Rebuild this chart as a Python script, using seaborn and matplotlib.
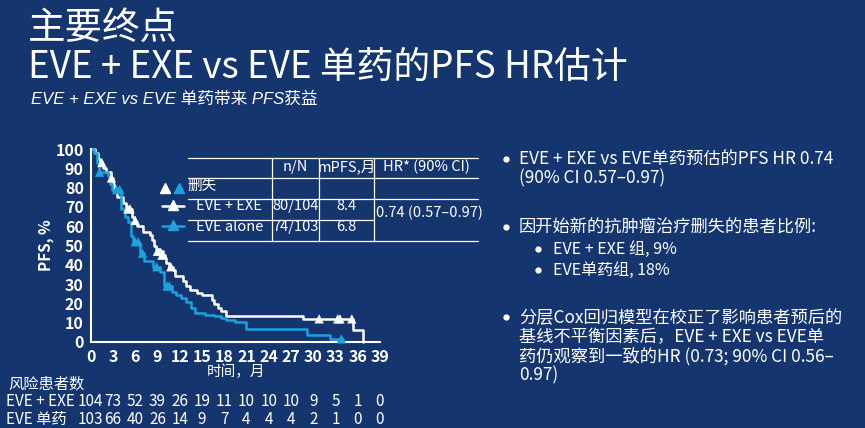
import numpy as np
import pandas as pd
import seaborn as sns
import matplotlib.pyplot as plt
import matplotlib.transforms as mtransforms

# KM 曲线 (月, PFS %)
combo_t = [0, 0.6, 1.0, 1.3, 1.6, 2.0, 2.7, 3.0, 3.2, 3.6, 4.3, 4.8, 5.6, 5.9, 6.2, 7.0, 8.0, 8.2, 8.5,
           8.8, 9.3, 9.8, 10.0, 10.2, 10.6, 11.1, 11.4, 12.5, 12.9, 13.4, 14.3, 15.0, 16.3, 16.6, 17.1,
           17.6, 18.2, 28.6, 35.4, 36.7]
combo_s = [100, 98, 95, 92, 90, 88, 85, 82, 78, 75, 72, 69, 65, 62, 60, 57, 55.5, 53, 50,
           48, 47, 45, 43.5, 41, 39, 37.5, 34, 31.5, 29, 27, 25.5, 24.5, 22, 19.5, 17.5,
           16, 13.5, 12, 6, 0]
mono_t = [0, 0.4, 0.8, 1.1, 2.3, 2.6, 2.9, 4.1, 4.6, 5.0, 5.4, 5.7, 6.7, 7.2, 8.4, 9.3, 9.9, 10.9,
          11.5, 12.2, 12.8, 13.5, 14.1, 15.4, 16.6, 17.6, 18.3, 19.5, 21.0, 29.2, 32.3, 34.0]
mono_s = [100, 98, 93, 88, 86, 82, 79, 69, 65, 62, 55, 51.5, 46, 42, 39, 36.5, 29, 26,
          24.5, 23, 20.5, 17.5, 15, 14, 13.3, 12.4, 11.6, 10.2, 6.5, 3.8, 1.6, 1.6]

# 删失
combo_cens_t = [1.5, 2.8, 5.0, 5.3, 6.0, 9.0, 9.6, 10.8, 30.8, 33.3, 33.6, 35.2]
combo_cens_s = [93, 85, 69, 69, 63, 47, 45, 39, 12, 12, 12, 12]
mono_cens_t = [1.2, 3.5, 3.9, 6.0, 6.4, 7.0, 8.9, 10.3, 10.6, 33.8]
mono_cens_s = [88, 79, 79, 52, 52, 46, 39, 29, 29, 1.6]

arms = ["EVE + EXE", "EVE alone"]
months = list(range(0, 40, 3))
risk_combo = [104, 73, 52, 39, 26, 19, 11, 10, 10, 10, 9, 5, 1, 0]
risk_mono = [103, 66, 40, 26, 14, 9, 7, 4, 4, 4, 2, 1, 0, 0]

BG = "#15356e"
WHITE = "#ffffff"
CYAN = "#1ea2df"

sns.set_style("white")
plt.rcParams["font.family"] = ["Noto Sans CJK SC", "DejaVu Sans"]

curves = pd.concat([
    pd.DataFrame({"t": combo_t, "s": combo_s, "arm": arms[0]}),
    pd.DataFrame({"t": mono_t, "s": mono_s, "arm": arms[1]}),
])
cens = pd.concat([
    pd.DataFrame({"t": combo_cens_t, "s": combo_cens_s, "arm": arms[0]}),
    pd.DataFrame({"t": mono_cens_t, "s": mono_cens_s, "arm": arms[1]}),
])
pal = {arms[0]: WHITE, arms[1]: CYAN}

fig = plt.figure(figsize=(8.65, 4.28), dpi=100, facecolor=BG)

ax = fig.add_axes([90.7 / 865, 1 - 342 / 428, 289.3 / 865, 193 / 428])
ax.set_facecolor(BG)
ax.set_zorder(1)

# 页面层 (像素坐标), 放在图的上面
page = fig.add_axes([0, 0, 1, 1])
page.set_xlim(0, 865)
page.set_ylim(428, 0)
page.axis("off")
page.set_zorder(5)

sns.lineplot(data=curves, x="t", y="s", hue="arm", palette=pal, drawstyle="steps-post",
             linewidth=1.8, estimator=None, sort=False, legend=False, ax=ax, clip_on=False)
sns.scatterplot(data=cens, x="t", y="s", hue="arm", palette=pal, marker="^", s=45,
                edgecolor="none", legend=False, ax=ax, clip_on=False, zorder=5)

ax.set_xlim(0, 39)
ax.set_ylim(0, 100)
ax.set_xticks(months)
ax.set_yticks(range(0, 101, 10))
for sp in ["top", "right"]:
    ax.spines[sp].set_visible(False)
for sp in ["left", "bottom"]:
    ax.spines[sp].set_color(WHITE)
    ax.spines[sp].set_linewidth(1.5)
ax.tick_params(colors=WHITE, labelsize=11.5, length=4, width=1.5, direction="out", pad=1)
for lab in ax.get_xticklabels() + ax.get_yticklabels():
    lab.set_fontweight("bold")
ax.set_xlabel("")
ax.set_ylabel("PFS, %", color=WHITE, fontsize=11, fontweight="bold", labelpad=1)
page.text(236, 372, "时间，月", color=WHITE, fontsize=10.5, ha="center", va="center")

# 表格 + 图例
fs_t = 10.5
tl, tr = 188, 478
c1, c2, c3 = 272, 319, 374
for y in [158, 178, 199, 241]:
    page.plot([tl, tr], [y, y], color=WHITE, lw=0.9)
page.plot([tl, c3], [220, 220], color=WHITE, lw=0.9)
for x in [c1, c2, c3]:
    page.plot([x, x], [158, 241], color=WHITE, lw=0.9)
page.text((c1 + c2) / 2, 167, "n/N", color=WHITE, fontsize=fs_t, ha="center", va="center")
page.text((c2 + c3) / 2, 167, "mPFS,月", color=WHITE, fontsize=fs_t, ha="center", va="center")
page.text((c3 + tr) / 2, 167, "HR* (90% CI)", color=WHITE, fontsize=fs_t, ha="center", va="center")
page.plot([165], [188], marker="^", color=WHITE, ms=6.5, ls="none")
page.plot([179], [188], marker="^", color=CYAN, ms=6.5, ls="none")
page.text(187, 186, "删失", color=WHITE, fontsize=fs_t, ha="left", va="center")
page.plot([162, 184], [206, 206], color=WHITE, lw=1.8)
page.plot([162, 184], [226, 226], color=CYAN, lw=1.8)
page.plot([173], [205], marker="^", color=WHITE, ms=6.5, ls="none")
page.plot([173], [225], marker="^", color=CYAN, ms=6.5, ls="none")
page.text(196, 206, "EVE + EXE", color=WHITE, fontsize=fs_t, ha="left", va="center")
page.text(196, 227, "EVE alone", color=WHITE, fontsize=fs_t, ha="left", va="center")
page.text((c1 + c2) / 2, 206, "80/104", color=WHITE, fontsize=fs_t, ha="center", va="center")
page.text((c1 + c2) / 2, 227, "74/103", color=WHITE, fontsize=fs_t, ha="center", va="center")
page.text((c2 + c3) / 2, 206, "8.4", color=WHITE, fontsize=fs_t, ha="center", va="center")
page.text((c2 + c3) / 2, 227, "6.8", color=WHITE, fontsize=fs_t, ha="center", va="center")
page.text(c3 + 2, 213, "0.74 (0.57–0.97)", color=WHITE, fontsize=fs_t, ha="left", va="center")

# 风险表
fs_r = 11
page.text(8, 384, "风险患者数", color=WHITE, fontsize=fs_r, ha="left", va="center")
page.text(6, 402, "EVE + EXE", color=WHITE, fontsize=fs_r, ha="left", va="center")
page.text(6, 419, "EVE 单药", color=WHITE, fontsize=fs_r, ha="left", va="center")
tr_risk = mtransforms.blended_transform_factory(ax.transData, page.transData)
for m, a, b in zip(months, risk_combo, risk_mono):
    page.text(m, 402, str(a), color=WHITE, fontsize=fs_r, ha="center", va="center", transform=tr_risk)
    page.text(m, 419, str(b), color=WHITE, fontsize=fs_r, ha="center", va="center", transform=tr_risk)

# 标题
page.text(28, 28, "主要终点", color=WHITE, fontsize=27, ha="left", va="center")
page.text(28, 67, "EVE + EXE vs EVE 单药的PFS HR估计", color=WHITE, fontsize=26.5, ha="left", va="center")
page.text(31, 99, "EVE + EXE vs EVE 单药带来 PFS获益", color=WHITE, fontsize=12, style="italic",
          family=["Liberation Sans", "Noto Sans CJK SC"], ha="left", va="center")

# 右侧要点 (每段一个多行文本)
fs_b = 12.4
bullets = [
    (506, 519, 151, "EVE + EXE vs EVE单药预估的PFS HR 0.74\n(90% CI 0.57–0.97)", fs_b),
    (506, 519, 219, "因开始新的抗肿瘤治疗删失的患者比例:", fs_b),
    (538, 553, 241, "EVE + EXE 组, 9%", 11.5),
    (538, 553, 262, "EVE单药组, 18%", 11.5),
    (506, 519, 309, "分层Cox回归模型在校正了影响患者预后的\n基线不平衡因素后，EVE + EXE vs EVE单\n"
                    "药仍观察到一致的HR (0.73; 90% CI 0.56–\n0.97)", fs_b),
]
for bx, x, y, txt, fs in bullets:
    page.plot([bx], [y + 8], marker="o", color=WHITE, ms=3.5, ls="none")
    page.text(x, y, txt, color=WHITE, fontsize=fs, ha="left", va="top", linespacing=1.05)

fig.savefig("out.png", dpi=100, facecolor=BG)
